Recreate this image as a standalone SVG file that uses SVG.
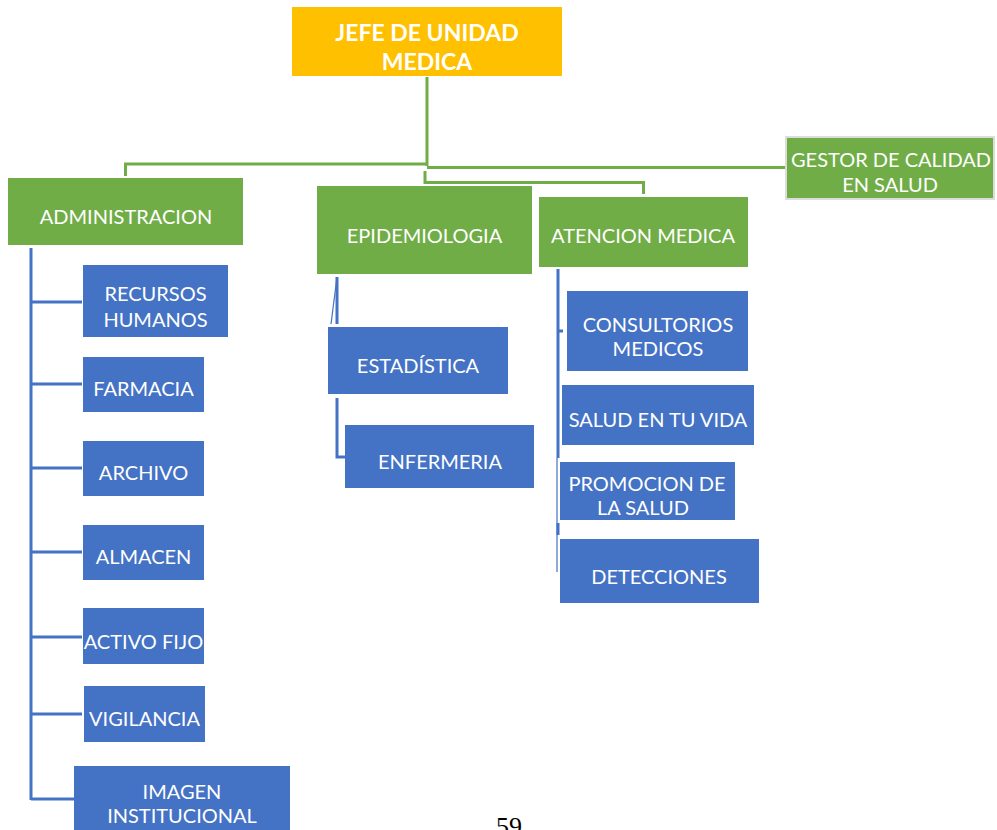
<svg xmlns="http://www.w3.org/2000/svg" width="997" height="830" viewBox="0 0 997 830">
<style>
.g{fill:#70AD47}
.b{fill:#4472C4}
.y{fill:#FFC000}
text{font-family:Lato,"Open Sans","Liberation Sans",sans-serif;fill:#fff;font-size:20px;text-anchor:middle}
.bold{font-weight:bold;font-size:23px}
.gl{stroke:#70AD47;stroke-width:3;fill:none}
.bl{stroke:#4472C4;stroke-width:3;fill:none}
.blt{stroke:#4472C4;stroke-width:1.2;fill:none}
</style>
<rect width="997" height="830" fill="#fff"/>
<g id="connectors">
<path class="gl" d="M427 77V166M125.5 176V164H427M427 167.5H786M425 171V182.5H643.5V194"/>
<path class="bl" d="M31 248V800M31 302H82M31 384H82M31 468H82M31 552H82M31 637H82M31 714H82M31 799H74"/>
<path class="bl" d="M337 277V324M337 398V457H345"/>
<path class="blt" d="M337 277L331 324"/>
<path class="bl" d="M558 269V458M558 331H563M558 523V535"/>
<path class="blt" d="M557 458V572"/>
</g>
<g id="jefe"><rect class="y" x="292" y="7" width="270" height="69"/><text class="bold" x="427" y="41">JEFE DE UNIDAD</text><text class="bold" x="427" y="70">MEDICA</text></g>
<g id="gestor"><rect class="g" x="786" y="137" width="208" height="62" stroke="#dcdcdc" stroke-width="2"/><text x="891" y="167">GESTOR DE CALIDAD</text><text x="890" y="192">EN SALUD</text></g>
<g id="administracion"><rect class="g" x="8" y="178" width="235" height="67"/><text x="126" y="224">ADMINISTRACION</text></g>
<g id="epidemiologia"><rect class="g" x="317" y="186" width="215" height="88"/><text x="424.5" y="243">EPIDEMIOLOGIA</text></g>
<g id="atencion"><rect class="g" x="539" y="197" width="209" height="70"/><text x="643" y="243">ATENCION MEDICA</text></g>
<g id="recursos"><rect class="b" x="83" y="265" width="145" height="72"/><text x="155.5" y="301">RECURSOS</text><text x="155.5" y="327">HUMANOS</text></g>
<g id="farmacia"><rect class="b" x="83" y="357" width="121" height="55"/><text x="143.5" y="396">FARMACIA</text></g>
<g id="archivo"><rect class="b" x="83" y="441" width="121" height="55"/><text x="143.5" y="480">ARCHIVO</text></g>
<g id="almacen"><rect class="b" x="83" y="525" width="121" height="55"/><text x="143.5" y="564">ALMACEN</text></g>
<g id="activo"><rect class="b" x="83" y="608" width="121" height="56"/><text x="143.5" y="649">ACTIVO FIJO</text></g>
<g id="vigilancia"><rect class="b" x="84" y="686" width="121" height="56"/><text x="144.5" y="726">VIGILANCIA</text></g>
<g id="imagen"><rect class="b" x="74" y="766" width="216" height="70"/><text x="182" y="799">IMAGEN</text><text x="182" y="823">INSTITUCIONAL</text></g>
<g id="estadistica"><rect class="b" x="328" y="327" width="180" height="67"/><text x="418" y="373">ESTADÍSTICA</text></g>
<g id="enfermeria"><rect class="b" x="345" y="425" width="189" height="63"/><text x="440" y="469">ENFERMERIA</text></g>
<g id="consultorios"><rect class="b" x="567" y="291" width="181" height="80"/><text x="658" y="332">CONSULTORIOS</text><text x="658" y="356">MEDICOS</text></g>
<g id="salud"><rect class="b" x="562" y="385" width="192" height="60"/><text x="658" y="427">SALUD EN TU VIDA</text></g>
<g id="promocion"><rect class="b" x="560" y="462" width="175" height="58"/><text x="647" y="491">PROMOCION DE</text><text x="643" y="515">LA SALUD</text></g>
<g id="detecciones"><rect class="b" x="560" y="539" width="199" height="64"/><text x="659" y="584">DETECCIONES</text></g>
<text x="509" y="835" style="font-family:'Liberation Serif',serif;fill:#000;font-size:26px">59</text>
</svg>
